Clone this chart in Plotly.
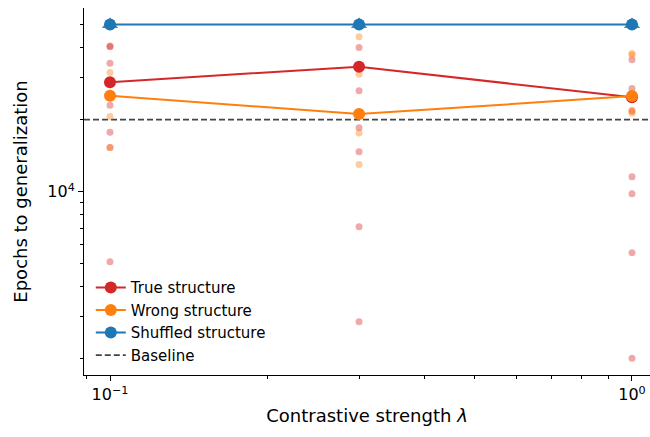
import plotly.graph_objects as go

# x values (contrastive strength)
lambdas = [0.1, 0.3, 1.0]

# mean epochs to generalization
true_mean = [28700, 33300, 24800]
wrong_mean = [25200, 21100, 25100]
shuffled_mean = [50000, 50000, 50000]
baseline = 20000

# individual runs
true_x = [0.1, 0.1, 0.1, 0.1, 0.1, 0.1, 0.1,
          0.3, 0.3, 0.3, 0.3, 0.3, 0.3,
          1.0, 1.0, 1.0, 1.0, 1.0, 1.0, 1.0]
true_y = [40300, 40600, 34400, 23000, 17700, 15300, 5100,
          40100, 26400, 18500, 14700, 7140, 2860,
          35600, 27000, 21700, 11550, 9810, 5560, 2014]
wrong_x = [0.1, 0.1, 0.1, 0.3, 0.3, 0.3, 0.3, 1.0, 1.0, 1.0, 1.0]
wrong_y = [31500, 20600, 15300, 44400, 31000, 17600, 13000, 37800, 37300, 21900, 21300]
shuffled_x = [0.1, 0.1, 0.3, 0.3, 1.0, 1.0]
shuffled_y = [50000, 50000, 50000, 50000, 50000, 50000]

RED = "#d62728"
ORANGE = "#ff7f0e"
BLUE = "#1f77b4"

fig = go.Figure()

fig.add_trace(go.Scatter(x=true_x, y=true_y, mode="markers", showlegend=False,
                         marker=dict(color="rgba(214,39,40,0.4)", size=7, line=dict(width=0)),
                         hoverinfo="skip"))
fig.add_trace(go.Scatter(x=wrong_x, y=wrong_y, mode="markers", showlegend=False,
                         marker=dict(color="rgba(255,127,14,0.4)", size=7, line=dict(width=0)),
                         hoverinfo="skip"))
fig.add_trace(go.Scatter(x=shuffled_x, y=shuffled_y, mode="markers", showlegend=False,
                         marker=dict(color="rgba(31,119,180,0.6)", size=14, symbol="triangle-up",
                                     line=dict(width=0)),
                         hoverinfo="skip"))

fig.add_trace(go.Scatter(x=lambdas, y=true_mean, mode="lines+markers", name="True structure",
                         line=dict(color=RED, width=2), marker=dict(color=RED, size=12),
                         legendgroup="a"))
fig.add_trace(go.Scatter(x=lambdas, y=wrong_mean, mode="lines+markers", name="Wrong structure",
                         line=dict(color=ORANGE, width=2), marker=dict(color=ORANGE, size=12),
                         legendgroup="b"))
fig.add_trace(go.Scatter(x=lambdas, y=shuffled_mean, mode="lines+markers", name="Shuffled structure",
                         line=dict(color=BLUE, width=2), marker=dict(color=BLUE, size=12),
                         legendgroup="c"))
fig.add_trace(go.Scatter(x=[None], y=[None], mode="lines", name="Baseline",
                         line=dict(color="#444444", width=1.6, dash="6px,3px"),
                         legendgroup="d"))

fig.add_shape(type="line", xref="paper", x0=0, x1=1, yref="y", y0=baseline, y1=baseline,
              line=dict(color="#444444", width=1.6, dash="6px,3px"), layer="below")

FONT = "DejaVu Sans"

fig.update_layout(
    width=650, height=437,
    margin=dict(l=84, r=0, t=8, b=62),
    plot_bgcolor="white", paper_bgcolor="white",
    font=dict(family=FONT, size=16, color="black"),
    showlegend=True,
    legend=dict(x=0.012, xanchor="left", y=0.01, yanchor="bottom",
                font=dict(size=15, family=FONT), bgcolor="rgba(0,0,0,0)",
                traceorder="grouped", tracegroupgap=0),
    xaxis=dict(type="log", range=[-1.0498, 0.0345],
               tickmode="array", tickvals=[0.1, 1.0],
               ticktext=["10<sup>−1</sup>", "10<sup>0</sup>"],
               ticks="outside", ticklen=5, tickwidth=1, tickcolor="black",
               showline=True, linecolor="black", linewidth=1.1,
               showgrid=False, zeroline=False,
               minor=dict(tickmode="array", tickvals=[0.09, 0.2, 0.3, 0.4, 0.5, 0.6, 0.7, 0.8, 0.9],
                          ticks="outside", ticklen=3, tickwidth=0.8, tickcolor="black", showgrid=False),
               title=dict(text="Contrastive strength <i>λ</i>", standoff=6, font=dict(size=18)),
               tickfont=dict(size=16)),
    yaxis=dict(type="log", range=[3.234, 4.7677],
               tickmode="array", tickvals=[10000],
               ticktext=["10<sup>4</sup>"],
               ticks="outside", ticklen=5, tickwidth=1, tickcolor="black",
               showline=True, linecolor="black", linewidth=1.1,
               showgrid=False, zeroline=False,
               minor=dict(tickmode="array",
                          tickvals=[2000, 3000, 4000, 5000, 6000, 7000, 8000, 9000,
                                    20000, 30000, 40000, 50000],
                          ticks="outside", ticklen=3, tickwidth=0.8, tickcolor="black", showgrid=False),
               title=dict(text="Epochs to generalization", standoff=14, font=dict(size=18)),
               tickfont=dict(size=16)),
)

fig.write_html("out.html")
